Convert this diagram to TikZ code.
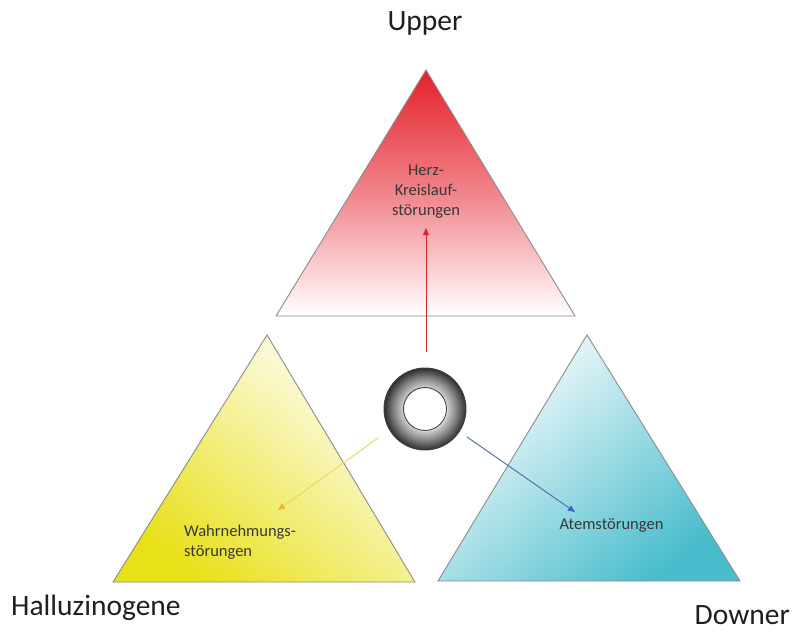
\documentclass[tikz,border=0pt]{standalone}
\usepackage{fontspec}
\setmainfont{Carlito}
\usetikzlibrary{arrows.meta}
\definecolor{redA}{RGB}{228,32,42}
\definecolor{yelA}{RGB}{232,224,25}
\definecolor{cyanA}{RGB}{72,188,204}
\definecolor{triline}{RGB}{140,140,140}
\definecolor{arrRed}{RGB}{215,40,45}
\definecolor{arrYel}{RGB}{228,218,100}
\definecolor{tipYel}{RGB}{240,180,40}
\definecolor{arrBlue}{RGB}{85,115,170}
\definecolor{tipBlue}{RGB}{55,105,200}
\pgfdeclareradialshading{donutshade}{\pgfpoint{0bp}{0bp}}{color(0bp)=(white); color(13bp)=(white); color(13.5bp)=(black!20); color(19bp)=(black!48); color(25bp)=(black!82); color(50bp)=(black!82)}
\tikzset{
  tri/.style={draw=triline, line width=0.9pt, line join=miter},
  small/.style={font=\fontsize{16.5}{20}\selectfont, text=black!78, inner sep=0pt},
  big/.style={font=\fontsize{29.5}{33}\selectfont, text=black!88, inner sep=0pt},
  conn/.style={line width=1pt},
}
\begin{document}
\begin{tikzpicture}[x=1pt, y=-1pt]
\useasboundingbox (0,0) rectangle (796,632);
% triangles
\shade[tri, top color=redA, bottom color=white, middle color=redA!55!white]
  (426,70) -- (575,316) -- (276,316) -- cycle;
\shade[tri, top color=white, bottom color=yelA, shading angle=-40]
  (267,335) -- (415,582) -- (113,582) -- cycle;
\shade[tri, top color=white, bottom color=cyanA, shading angle=40]
  (587,335) -- (740,581) -- (438,581) -- cycle;
% donut
\node[circle, minimum size=82pt, inner sep=0pt, shading=donutshade, draw=black!75, line width=0.9pt] (ring) at (425,409) {};
\node[circle, minimum size=43pt, inner sep=0pt, fill=white, draw=black!75, line width=0.9pt] (hole) at (ring.center) {};
% connector ends
\coordinate (rs) at (426,352);
\coordinate (re) at (426,228);
\coordinate (ys) at (378,438);
\coordinate (ye) at (278,510);
\coordinate (bs) at (467,437);
\coordinate (be) at (575,512);
\draw[conn, arrRed, -{Triangle[length=7pt, width=6pt, color=arrRed, fill=arrRed]}] (rs) -- (re);
\draw[conn, arrYel, -{Triangle[length=7pt, width=6pt, color=tipYel, fill=tipYel]}] (ys) -- (ye);
\draw[conn, arrBlue, -{Triangle[length=7pt, width=6pt, color=tipBlue, fill=tipBlue]}] (bs) -- (be);
% texts
\node[small, align=center] (herz) at (426,192) {Herz-\\Kreislauf-\\störungen};
\node[small, align=left, anchor=north west] (wahr) at (184,525) {Wahrnehmungs-\\störungen};
\node[small, anchor=base] (atem) at (611.5,529) {Atemstörungen};
\node[big, anchor=base] (upper) at (425,30) {Upper};
\node[big, anchor=base west] (hallu) at (11,615) {Halluzinogene};
\node[big, anchor=base east] (downer) at (790,624) {Downer};
\end{tikzpicture}
\end{document}
